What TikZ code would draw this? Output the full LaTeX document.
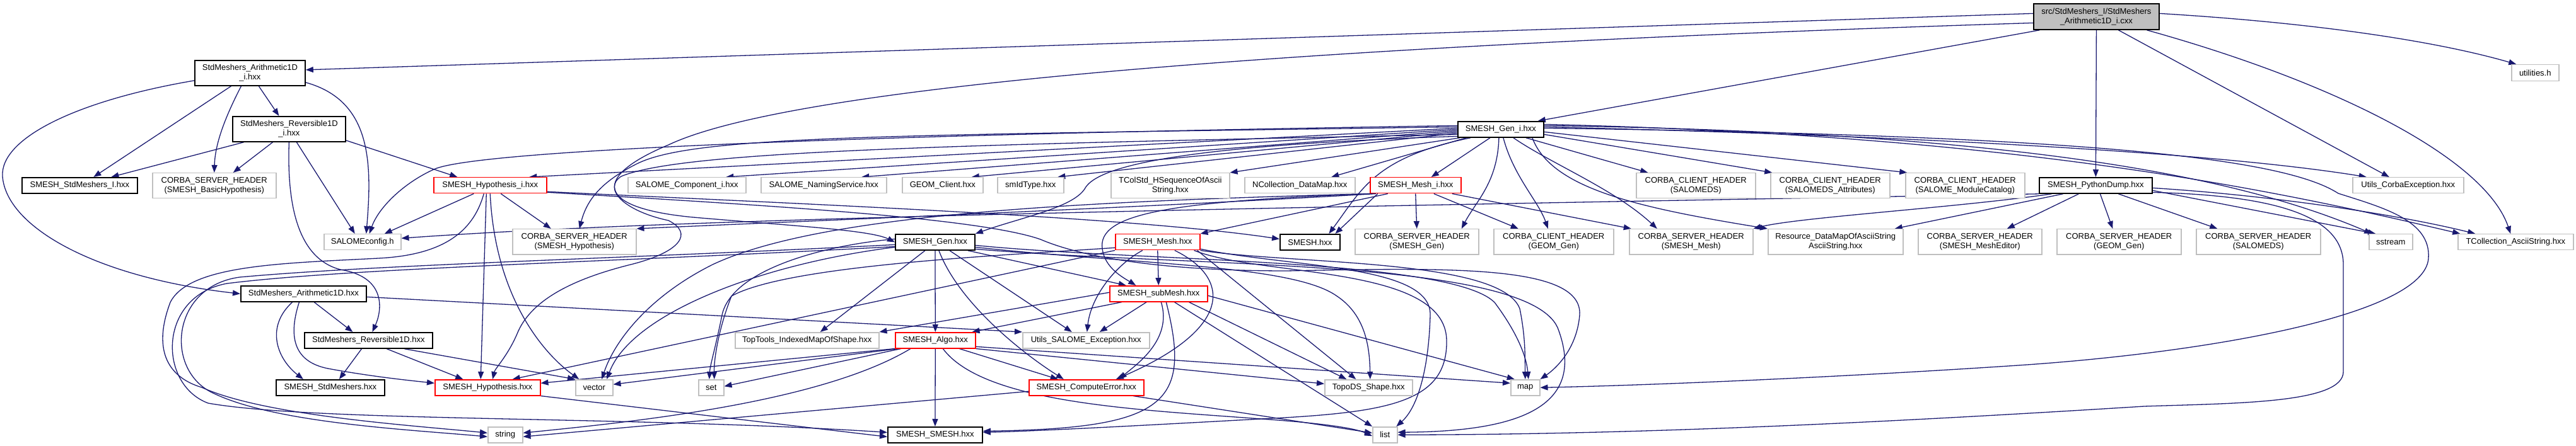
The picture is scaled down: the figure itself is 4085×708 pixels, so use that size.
\documentclass[tikz,border=0pt]{standalone}
\usepackage{fontspec}
\setmainfont{Liberation Sans}
\usetikzlibrary{arrows.meta,backgrounds}
\definecolor{ec}{HTML}{191970}
\definecolor{gb}{HTML}{BFBFBF}
\definecolor{rootfill}{HTML}{BFBFBF}
\newcommand{\fs}{\fontsize{13}{15}\selectfont}
\newcommand{\mkbox}[7]{%
  \pgfmathsetmacro{\mkbw}{#5-#3}%
  \pgfmathsetmacro{\mkbh}{#6-#4}%
  \node[#1, anchor=north west, minimum width=\mkbw pt, minimum height=\mkbh pt] (#2) at (#3,#4) {#7};%
}
\tikzset{
  nbox/.style={rectangle, inner sep=0pt, align=center, font=\fs, text=black},
  gbox/.style={nbox, draw=gb, line width=1.5pt, fill=white},
  rbox/.style={nbox, draw=red, line width=1.5pt, fill=white},
  bbox/.style={nbox, draw=black, line width=1.8pt, fill=white},
  rootbox/.style={nbox, draw=black, line width=1.8pt, fill=rootfill},
  cn/.style={draw=ec, line width=1.3pt, -{Triangle[length=12pt,width=9pt]}},
}
\begin{document}
\begin{tikzpicture}[x=1pt,y=-1pt]
\useasboundingbox (0,0) rectangle (4085,708);
% ---------------- nodes
\mkbox{rootbox}{root}{3224}{5}{3423}{46}{src/StdMeshers\_I/StdMeshers\\\_Arithmetic1D\_i.cxx}
\mkbox{bbox}{A1i}{308}{95}{483}{135}{StdMeshers\_Arithmetic1D\\\_i.hxx}
\mkbox{bbox}{R1i}{368}{184}{547}{224}{StdMeshers\_Reversible1D\\\_i.hxx}
\mkbox{bbox}{SSI}{34}{281}{217}{306}{SMESH\_StdMeshers\_I.hxx}
\mkbox{gbox}{CSBH}{241}{274}{437}{314}{CORBA\_SERVER\_HEADER\\(SMESH\_BasicHypothesis)}
\mkbox{rbox}{SHi}{687}{281}{866}{306}{SMESH\_Hypothesis\_i.hxx}
\mkbox{gbox}{SCi}{995}{281}{1182}{306}{SALOME\_Component\_i.hxx}
\mkbox{gbox}{SNS}{1206}{281}{1405}{306}{SALOME\_NamingService.hxx}
\mkbox{gbox}{GEOMC}{1430}{281}{1558}{306}{GEOM\_Client.hxx}
\mkbox{gbox}{smId}{1581}{281}{1686}{306}{smIdType.hxx}
\mkbox{gbox}{TColStd}{1761}{274}{1949}{314}{TColStd\_HSequenceOfAscii\\String.hxx}
\mkbox{gbox}{NCol}{1973}{281}{2148}{306}{NCollection\_DataMap.hxx}
\mkbox{bbox}{SGi}{2311}{192}{2447}{217}{SMESH\_Gen\_i.hxx}
\mkbox{rbox}{SMi}{2172}{281}{2316}{306}{SMESH\_Mesh\_i.hxx}
\mkbox{gbox}{CCHSDS}{2594}{274}{2783}{314}{CORBA\_CLIENT\_HEADER\\(SALOMEDS)}
\mkbox{gbox}{CCHSDSA}{2807}{274}{2996}{314}{CORBA\_CLIENT\_HEADER\\(SALOMEDS\_Attributes)}
\mkbox{gbox}{CCHMC}{3021}{274}{3210}{314}{CORBA\_CLIENT\_HEADER\\(SALOME\_ModuleCatalog)}
\mkbox{bbox}{PyD}{3233}{281}{3412}{306}{SMESH\_PythonDump.hxx}
\mkbox{gbox}{util}{3982}{102}{4057}{128}{utilities.h}
\mkbox{gbox}{UCE}{3730}{281}{3906}{306}{Utils\_CorbaException.hxx}
\mkbox{gbox}{Scfg}{513}{371}{635}{396}{SALOMEconfig.h}
\mkbox{bbox}{A1}{381}{453}{580}{478}{StdMeshers\_Arithmetic1D.hxx}
\mkbox{bbox}{R1}{482}{527}{685}{552}{StdMeshers\_Reversible1D.hxx}
\mkbox{bbox}{SSM}{437}{602}{609}{627}{SMESH\_StdMeshers.hxx}
\mkbox{gbox}{CSHHyp}{812}{363}{1008}{403}{CORBA\_SERVER\_HEADER\\(SMESH\_Hypothesis)}
\mkbox{rbox}{Hyp}{689}{602}{856}{627}{SMESH\_Hypothesis.hxx}
\mkbox{gbox}{vector}{912}{602}{971}{627}{vector}
\mkbox{gbox}{set}{1107}{602}{1147}{627}{set}
\mkbox{gbox}{string}{773}{677}{828}{702}{string}
\mkbox{gbox}{TopTools}{1165}{527}{1393}{552}{TopTools\_IndexedMapOfShape.hxx}
\mkbox{bbox}{Gen}{1419}{371}{1545}{396}{SMESH\_Gen.hxx}
\mkbox{rbox}{Mesh}{1768}{371}{1902}{396}{SMESH\_Mesh.hxx}
\mkbox{rbox}{subMesh}{1759}{453}{1914}{478}{SMESH\_subMesh.hxx}
\mkbox{rbox}{Algo}{1419}{527}{1546}{552}{SMESH\_Algo.hxx}
\mkbox{gbox}{USE}{1621}{527}{1822}{552}{Utils\_SALOME\_Exception.hxx}
\mkbox{rbox}{CompErr}{1631}{602}{1813}{627}{SMESH\_ComputeError.hxx}
\mkbox{bbox}{SSMESH}{1407}{677}{1557}{702}{SMESH\_SMESH.hxx}
\mkbox{bbox}{SMESHh}{2029}{371}{2124}{396}{SMESH.hxx}
\mkbox{gbox}{CSHGen}{2148}{363}{2344}{403}{CORBA\_SERVER\_HEADER\\(SMESH\_Gen)}
\mkbox{gbox}{CCHGEOM}{2368}{363}{2558}{403}{CORBA\_CLIENT\_HEADER\\(GEOM\_Gen)}
\mkbox{gbox}{CSHMesh}{2583}{363}{2779}{403}{CORBA\_SERVER\_HEADER\\(SMESH\_Mesh)}
\mkbox{gbox}{TopoDS}{2100}{602}{2239}{627}{TopoDS\_Shape.hxx}
\mkbox{gbox}{map}{2395}{602}{2441}{627}{map}
\mkbox{gbox}{list}{2176}{677}{2215}{702}{list}
\mkbox{gbox}{Resource}{2803}{363}{3017}{403}{Resource\_DataMapOfAsciiString\\AsciiString.hxx}
\mkbox{gbox}{CSHME}{3041}{363}{3237}{403}{CORBA\_SERVER\_HEADER\\(SMESH\_MeshEditor)}
\mkbox{gbox}{CSHGG}{3261}{363}{3458}{403}{CORBA\_SERVER\_HEADER\\(GEOM\_Gen)}
\mkbox{gbox}{CSHSDS}{3482}{363}{3679}{403}{CORBA\_SERVER\_HEADER\\(SALOMEDS)}
\mkbox{gbox}{sstream}{3756}{371}{3825}{396}{sstream}
\mkbox{gbox}{TCol}{3897}{371}{4080}{396}{TCollection\_AsciiString.hxx}
% ---------------- edges
\begin{pgfonlayer}{background}
\fill[white] (0,0) rectangle (4085,708);
% root
\draw[cn] ([yshift=5pt]root.west) -- ([yshift=5pt]A1i.east);
\draw[cn] ([yshift=-10pt]root.west) .. controls (2000,75) and (1250,140) .. (1060,230) .. controls (940,280) and (940,330) .. (1100,345) .. controls (1250,358) and (1380,365) .. (Gen.west);
\draw[cn] ([xshift=-90pt]root.south) -- ([xshift=-10pt]SGi.north east);
\draw[cn] (root.south) -- (PyD.north);
\draw[cn] ([xshift=35pt]root.south) -- ([xshift=-30pt]UCE.north);
\draw[cn] ([yshift=5pt]root.east) .. controls (3700,38) and (3880,70) .. ([xshift=-30pt]util.north);
\draw[cn] ([xshift=80pt]root.south) .. controls (3700,130) and (3940,250) .. ([xshift=-8pt]TCol.north);
% A1i
\draw[cn] ([xshift=-30pt]A1i.south) -- ([xshift=22pt]SSI.north);
\draw[cn] ([xshift=-14pt]A1i.south) .. controls (355,190) and (341,230) .. (CSBH.north);
\draw[cn] ([xshift=14pt]A1i.south) -- ([xshift=-16pt]R1i.north);
\draw[cn] ([yshift=-15pt]A1i.east) .. controls (590,160) and (590,260) .. ([xshift=6pt]Scfg.north);
\draw[cn] ([yshift=-12pt]A1i.west) .. controls (120,160) and (0,220) .. (4,280) .. controls (10,360) and (150,440) .. (A1.west);
% R1i
\draw[cn] ([xshift=-72pt]R1i.south) -- ([xshift=50pt]SSI.north);
\draw[cn] ([xshift=-26pt]R1i.south) -- ([xshift=30pt]CSBH.north);
\draw[cn] (R1i.south) .. controls (455,320) and (470,410) .. (540,428) .. controls (615,440) and (605,495) .. ([xshift=6pt]R1.north);
\draw[cn] ([xshift=12pt]R1i.south) -- ([xshift=-12pt]Scfg.north);
\draw[cn] ([yshift=-18pt]R1i.east) -- ([xshift=-52pt]SHi.north);
% SHi
\draw[cn] ([xshift=-26pt]SHi.south) -- ([xshift=35pt]Scfg.north);
\draw[cn] ([xshift=-10pt]SHi.south) .. controls (750,370) and (700,405) .. (600,410) .. controls (450,418) and (300,420) .. (270,480) .. controls (240,560) and (270,600) .. (320,615) .. controls (420,660) and (650,675) .. ([yshift=3pt]string.west);
\draw[cn] ([xshift=-6pt]SHi.south) -- ([xshift=-11pt]Hyp.north);
\draw[cn] (SHi.south) .. controls (785,470) and (860,560) .. ([xshift=-24pt]vector.north);
\draw[cn] ([xshift=17pt]SHi.south) -- ([xshift=-37pt]CSHHyp.north);
\draw[cn] ([yshift=-10pt]SHi.east) .. controls (1300,325) and (1800,345) .. ([yshift=5pt]SMESHh.west);
\draw[cn] ([yshift=-11pt]SHi.east) .. controls (1200,325) and (1550,345) .. (1650,380) .. controls (1720,410) and (1850,430) .. (2040,430) .. controls (2300,425) and (2510,420) .. (2505,500) .. controls (2500,560) and (2460,590) .. (map.north east);
% SGi
\draw[cn] ([yshift=2pt]SGi.west) -- ([xshift=62pt]SHi.north);
\draw[cn] (SGi.west) -- ([xshift=62pt]SCi.north);
\draw[cn] ([yshift=-2pt]SGi.west) -- ([xshift=60pt]SNS.north);
\draw[cn] ([yshift=-4pt]SGi.west) -- ([xshift=46pt]GEOMC.north);
\draw[cn] ([yshift=-6pt]SGi.west) -- ([xshift=43pt]smId.north);
\draw[cn] ([xshift=-65pt]SGi.south) -- (TColStd.north east);
\draw[cn] ([xshift=-55pt]SGi.south) -- ([xshift=50pt]NCol.north);
\draw[cn] ([xshift=-17pt]SGi.south) -- ([xshift=25pt]SMi.north);
\draw[cn] ([xshift=-3pt]SGi.south) .. controls (2375,290) and (2340,320) .. ([xshift=71pt]CSHGen.north);
\draw[cn] ([xshift=4pt]SGi.south) .. controls (2400,280) and (2440,320) .. ([xshift=-9pt]CCHGEOM.north);
\draw[cn] ([xshift=20pt]SGi.south) .. controls (2460,260) and (2560,300) .. ([xshift=-54pt]CSHMesh.north);
\draw[cn] ([xshift=40pt]SGi.south) -- ([xshift=-76pt]CCHSDS.north);
\draw[cn] ([yshift=-8pt]SGi.east) -- ([xshift=-92pt]CCHSDSA.north);
\draw[cn] ([yshift=-4pt]SGi.east) -- ([xshift=-92pt]CCHMC.north);
\draw[cn] ([yshift=4pt]SGi.east) .. controls (3000,215) and (3500,240) .. ([xshift=-66pt]UCE.north);
\draw[cn] ([yshift=6pt]SGi.west) .. controls (1300,215) and (760,240) .. (690,268) .. controls (640,290) and (600,330) .. ([xshift=11pt]Scfg.north);
\draw[cn] ([yshift=4pt]SGi.west) .. controls (1400,215) and (1100,215) .. (1010,260) .. controls (950,290) and (930,320) .. ([xshift=8pt]CSHHyp.north);
\draw[cn] ([yshift=-8pt]SGi.west) .. controls (1500,230) and (1080,240) .. (985,280) .. controls (955,300) and (990,335) .. (1060,350) .. controls (1100,370) and (1080,400) .. (1000,420) .. controls (900,445) and (840,480) .. (820,530) .. controls (805,565) and (785,585) .. ([xshift=8pt]Hyp.north);
\draw[cn] ([yshift=-11pt]SGi.west) .. controls (1900,230) and (1740,260) .. (1720,300) .. controls (1700,330) and (1620,345) .. (Gen.north east);
\draw[cn] ([xshift=-48pt]SGi.south) .. controls (2180,250) and (2160,300) .. ([xshift=30pt]SMESHh.north);
\draw[cn] ([xshift=50pt]SGi.south) .. controls (2460,300) and (2600,330) .. (Resource.north west);
\draw[cn] ([yshift=8pt]SGi.east) .. controls (3200,215) and (3600,300) .. ([xshift=-88pt]TCol.north);
\draw[cn] ([yshift=6pt]SGi.east) .. controls (3200,210) and (3550,280) .. ([xshift=-30pt]sstream.north);
\draw[cn] ([yshift=2pt]SGi.east) .. controls (3300,215) and (3620,250) .. (3708,307) .. controls (3780,330) and (3855,350) .. (3851,410) .. controls (3845,500) and (3500,560) .. (3200,580) .. controls (2900,600) and (2600,612) .. (map.east);
% PyD
\draw[cn] (PyD.south west) .. controls (2000,330) and (1100,345) .. ([yshift=6pt]Scfg.east);
\draw[cn] ([xshift=-70pt]PyD.south) .. controls (3100,330) and (2850,345) .. (CSHMesh.north east);
\draw[cn] ([xshift=-27pt]PyD.south) -- ([xshift=43pt]CSHME.north);
\draw[cn] ([xshift=7pt]PyD.south) -- ([xshift=-10pt]CSHGG.north);
\draw[cn] ([xshift=36pt]PyD.south) -- ([xshift=-65pt]CSHSDS.north);
\draw[cn] ([yshift=-8pt]PyD.east) -- ([xshift=-24pt]sstream.north);
\draw[cn] ([yshift=-4pt]PyD.east) .. controls (3600,310) and (3800,340) .. ([xshift=-64pt]TCol.north);
\draw[cn] ([yshift=-11pt]PyD.east) .. controls (3600,310) and (3716,340) .. (3716,420) -- (3716,590) .. controls (3716,640) and (3550,640) .. (3400,645) .. controls (3000,670) and (2600,690) .. (list.east);
\draw[cn] ([xshift=-52pt]PyD.south) -- ([xshift=94pt]Resource.north);
% SMi
\draw[cn] (SMi.south) -- (CSHGen.north);
\draw[cn] ([xshift=29pt]SMi.south) -- ([xshift=-56pt]CCHGEOM.north);
\draw[cn] ([xshift=58pt]SMi.south) -- ([xshift=-95pt]CSHMesh.north);
\draw[cn] ([xshift=-44pt]SMi.south) -- (Mesh.north east);
\draw[cn] ([xshift=-60pt]SMi.south) -- ([xshift=40pt]SMESHh.north);
\draw[cn] (SMi.south west) .. controls (1850,320) and (1740,340) .. (1748,395) .. controls (1752,425) and (1780,440) .. ([xshift=-36pt]subMesh.north);
\draw[cn] ([xshift=5pt]SMi.south west) .. controls (1700,320) and (1300,340) .. (1130,420) .. controls (1030,470) and (975,540) .. ([xshift=12pt]vector.north);
\draw[cn] ([xshift=10pt]SMi.south west) .. controls (1800,330) and (1300,350) .. (CSHHyp.north east);
% Mesh
\draw[cn] (Mesh.south) -- (subMesh.north);
\draw[cn] ([xshift=-24pt]Mesh.south) .. controls (1770,420) and (1730,470) .. ([xshift=1.5pt]USE.north);
\draw[cn] ([xshift=27pt]Mesh.south) .. controls (1950,440) and (1960,520) .. ([xshift=47pt]CompErr.north);
\draw[cn] (Mesh.south west) -- ([xshift=39.5pt]Hyp.north);
\draw[cn] ([yshift=-9pt]Mesh.west) .. controls (1600,405) and (1250,420) .. (1160,470) .. controls (1140,520) and (1132,570) .. ([xshift=5pt]set.north);
\draw[cn] (Mesh.south east) .. controls (2050,420) and (2380,410) .. (2410,490) .. controls (2420,540) and (2418,570) .. (map.north);
\draw[cn] ([yshift=-11pt]Mesh.east) .. controls (2050,425) and (2270,420) .. (2268,500) .. controls (2266,580) and (2250,645) .. ([xshift=18pt]list.north);
\draw[cn] ([xshift=-10pt]Mesh.south east) .. controls (2000,440) and (2292,420) .. (2294,540) .. controls (2296,640) and (2200,655) .. (2000,665) .. controls (1800,676) and (1650,684) .. ([yshift=4pt]SSMESH.east);
\draw[cn] ([xshift=-5pt]Mesh.south east) -- ([xshift=-20pt]TopoDS.north);
% Gen
\draw[cn] ([xshift=-16pt]Gen.south) -- ([xshift=21pt]TopTools.north);
\draw[cn] (Gen.south) -- (Algo.north);
\draw[cn] ([xshift=6pt]Gen.south) .. controls (1520,480) and (1620,560) .. ([xshift=-36pt]CompErr.north);
\draw[cn] ([xshift=23pt]Gen.south) -- ([xshift=-22.5pt]USE.north);
\draw[cn] ([xshift=52pt]Gen.south) -- ([xshift=-51.5pt]subMesh.north);
\draw[cn] ([yshift=-8pt]Gen.east) .. controls (1800,420) and (2050,420) .. (2120,470) .. controls (2165,500) and (2172,550) .. ([xshift=2.5pt]TopoDS.north);
\draw[cn] ([yshift=-5pt]Gen.east) .. controls (1800,415) and (2300,410) .. (2370,480) .. controls (2400,520) and (2420,560) .. ([xshift=5pt]map.north);
\draw[cn] ([yshift=-11pt]Gen.east) .. controls (1900,425) and (2420,410) .. (2470,520) .. controls (2520,650) and (2400,685) .. ([yshift=4pt]list.east);
\draw[cn] ([yshift=5pt]Gen.west) .. controls (1300,390) and (1160,430) .. (1145,500) .. controls (1135,550) and (1126,580) .. ([xshift=-3pt]set.north);
\draw[cn] ([yshift=-8pt]Gen.west) .. controls (1200,420) and (1000,500) .. ([xshift=20pt]vector.north);
\draw[cn] ([yshift=-4pt]Gen.west) .. controls (1000,410) and (600,420) .. (380,440) .. controls (270,455) and (260,590) .. (340,625) .. controls (440,672) and (650,682) .. ([yshift=-3pt]string.west);
\draw[cn] ([yshift=-7pt]Gen.west) .. controls (1000,415) and (560,425) .. (360,450) .. controls (250,470) and (250,610) .. (330,640) .. controls (500,670) and (1000,660) .. ([yshift=4pt]SSMESH.west);
% subMesh
\draw[cn] ([xshift=-58pt]subMesh.south) -- ([xshift=-6pt]Algo.north east);
\draw[cn] ([yshift=2pt]subMesh.west) -- (TopTools.north east);
\draw[cn] ([xshift=-19pt]subMesh.south) -- ([xshift=21.5pt]USE.north);
\draw[cn] ([xshift=4pt]subMesh.south) .. controls (1860,540) and (1800,580) .. ([xshift=52pt]CompErr.north);
\draw[cn] ([xshift=12pt]subMesh.south) .. controls (1890,640) and (1850,680) .. ([yshift=6pt]SSMESH.east);
\draw[cn] ([xshift=48pt]subMesh.south) -- ([xshift=-35pt]TopoDS.north);
\draw[cn] ([yshift=-3pt]subMesh.east) -- ([xshift=-17pt]map.north);
\draw[cn] ([xshift=25pt]subMesh.south) -- (list.north west);
% Algo
\draw[cn] (Algo.south) -- (SSMESH.north);
\draw[cn] ([xshift=38pt]Algo.south) -- ([xshift=-45pt]CompErr.north);
\draw[cn] (Algo.south west) -- ([yshift=7pt]Hyp.east);
\draw[cn] ([xshift=5pt]Algo.south west) -- ([yshift=5pt]vector.east);
\draw[cn] ([xshift=10pt]Algo.south west) -- ([yshift=2pt]set.east);
\draw[cn] ([xshift=25pt]Algo.south west) .. controls (1300,640) and (1000,670) .. ([yshift=3pt]string.east);
\draw[cn] (Algo.south east) -- ([yshift=6pt]TopoDS.west);
\draw[cn] ([yshift=-10pt]Algo.east) -- ([yshift=7pt]map.west);
\draw[cn] ([xshift=12pt]Algo.south) .. controls (1560,640) and (1800,650) .. (2000,665) .. controls (2100,672) and (2150,680) .. ([yshift=-2pt]list.west);
% CompErr
\draw[cn] ([yshift=-6pt]CompErr.west) -- ([yshift=-3pt]string.east);
\draw[cn] ([xshift=74pt]CompErr.south) -- ([yshift=3pt]list.west);
% Hyp
\draw[cn] (Hyp.south east) -- ([yshift=-3pt]SSMESH.west);
% A1
\draw[cn] ([xshift=17pt]A1.south) -- ([xshift=-25pt]R1.north);
\draw[cn] ([xshift=-18pt]A1.south) .. controls (420,520) and (440,570) .. ([xshift=-43pt]SSM.north);
\draw[cn] ([xshift=-7pt]A1.south) .. controls (455,540) and (470,575) .. (520,585) .. controls (590,598) and (650,604) .. ([yshift=7pt]Hyp.west);
\draw[cn] ([yshift=-5pt]A1.east) -- (USE.north west);
% R1
\draw[cn] ([xshift=-11pt]R1.south) -- ([xshift=14pt]SSM.north);
\draw[cn] ([xshift=29pt]R1.south) -- ([xshift=-39pt]Hyp.north);
\draw[cn] ([xshift=57pt]R1.south) -- (vector.north west);
\end{pgfonlayer}
\end{tikzpicture}
\end{document}
